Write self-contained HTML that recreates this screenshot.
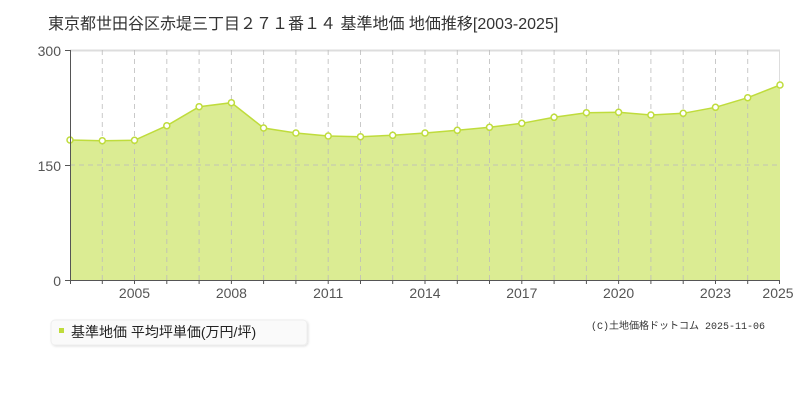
<!DOCTYPE html>
<html><head><meta charset="utf-8"><style>
body{margin:0;background:#fff;width:800px;height:400px;overflow:hidden;font-family:"Liberation Sans","Noto Sans CJK JP",sans-serif;}
</style></head><body>
<svg width="800" height="400" xmlns="http://www.w3.org/2000/svg" font-family="Liberation Sans, Noto Sans CJK JP, sans-serif">
<defs><filter id="sh" x="-5%" y="-20%" width="110%" height="160%"><feDropShadow dx="1" dy="1" stdDeviation="1" flood-color="#000" flood-opacity="0.12"/></filter></defs>
<text x="48" y="29" font-size="16" fill="#333">東京都世田谷区赤堤三丁目２７１番１４ 基準地価 地価推移[2003-2025]</text>
<line x1="70" y1="50.5" x2="780" y2="50.5" stroke="#ddd" stroke-width="2"/>
<line x1="779.5" y1="50" x2="779.5" y2="280" stroke="#ddd" stroke-width="1"/>
<polygon fill="#dbec93" points="70,280 70,140 102.3,140.7 134.5,140.3 166.8,125.7 199.1,106.7 231.4,102.7 263.6,128 295.9,133 328.2,136 360.5,136.7 392.7,135.3 425,133 457.3,130.3 489.5,127.3 521.8,123.3 554.1,117.3 586.4,112.7 618.6,112.3 650.9,115 683.2,113.3 715.5,107.3 747.7,97.7 780,85 780,280"/>
<g stroke="#bbb" stroke-opacity="0.8" stroke-dasharray="5,4" stroke-width="1">
<line x1="102.3" y1="50" x2="102.3" y2="280"/><line x1="134.5" y1="50" x2="134.5" y2="280"/><line x1="166.8" y1="50" x2="166.8" y2="280"/><line x1="199.1" y1="50" x2="199.1" y2="280"/><line x1="231.4" y1="50" x2="231.4" y2="280"/><line x1="263.6" y1="50" x2="263.6" y2="280"/><line x1="295.9" y1="50" x2="295.9" y2="280"/><line x1="328.2" y1="50" x2="328.2" y2="280"/><line x1="360.5" y1="50" x2="360.5" y2="280"/><line x1="392.7" y1="50" x2="392.7" y2="280"/><line x1="425" y1="50" x2="425" y2="280"/><line x1="457.3" y1="50" x2="457.3" y2="280"/><line x1="489.5" y1="50" x2="489.5" y2="280"/><line x1="521.8" y1="50" x2="521.8" y2="280"/><line x1="554.1" y1="50" x2="554.1" y2="280"/><line x1="586.4" y1="50" x2="586.4" y2="280"/><line x1="618.6" y1="50" x2="618.6" y2="280"/><line x1="650.9" y1="50" x2="650.9" y2="280"/><line x1="683.2" y1="50" x2="683.2" y2="280"/><line x1="715.5" y1="50" x2="715.5" y2="280"/><line x1="747.7" y1="50" x2="747.7" y2="280"/>
<line x1="70" y1="165" x2="780" y2="165"/>
</g>
<polyline fill="none" stroke="#bfdc3c" stroke-width="1.5" points="70,140 102.3,140.7 134.5,140.3 166.8,125.7 199.1,106.7 231.4,102.7 263.6,128 295.9,133 328.2,136 360.5,136.7 392.7,135.3 425,133 457.3,130.3 489.5,127.3 521.8,123.3 554.1,117.3 586.4,112.7 618.6,112.3 650.9,115 683.2,113.3 715.5,107.3 747.7,97.7 780,85"/>
<g fill="#fff" stroke="#bfdc3c" stroke-width="1.5">
<circle cx="70" cy="140" r="3"/><circle cx="102.3" cy="140.7" r="3"/><circle cx="134.5" cy="140.3" r="3"/><circle cx="166.8" cy="125.7" r="3"/><circle cx="199.1" cy="106.7" r="3"/><circle cx="231.4" cy="102.7" r="3"/><circle cx="263.6" cy="128" r="3"/><circle cx="295.9" cy="133" r="3"/><circle cx="328.2" cy="136" r="3"/><circle cx="360.5" cy="136.7" r="3"/><circle cx="392.7" cy="135.3" r="3"/><circle cx="425" cy="133" r="3"/><circle cx="457.3" cy="130.3" r="3"/><circle cx="489.5" cy="127.3" r="3"/><circle cx="521.8" cy="123.3" r="3"/><circle cx="554.1" cy="117.3" r="3"/><circle cx="586.4" cy="112.7" r="3"/><circle cx="618.6" cy="112.3" r="3"/><circle cx="650.9" cy="115" r="3"/><circle cx="683.2" cy="113.3" r="3"/><circle cx="715.5" cy="107.3" r="3"/><circle cx="747.7" cy="97.7" r="3"/><circle cx="780" cy="85" r="3"/>
</g>
<g stroke="#555" stroke-width="1">
<line x1="70.5" y1="50" x2="70.5" y2="284"/><line x1="70" y1="280.5" x2="780" y2="280.5"/>
<line x1="65" y1="50.5" x2="70" y2="50.5"/><line x1="65" y1="165.5" x2="70" y2="165.5"/><line x1="65" y1="280.5" x2="70" y2="280.5"/>
<line x1="102.3" y1="280" x2="102.3" y2="284"/><line x1="134.5" y1="280" x2="134.5" y2="284"/><line x1="166.8" y1="280" x2="166.8" y2="284"/><line x1="199.1" y1="280" x2="199.1" y2="284"/><line x1="231.4" y1="280" x2="231.4" y2="284"/><line x1="263.6" y1="280" x2="263.6" y2="284"/><line x1="295.9" y1="280" x2="295.9" y2="284"/><line x1="328.2" y1="280" x2="328.2" y2="284"/><line x1="360.5" y1="280" x2="360.5" y2="284"/><line x1="392.7" y1="280" x2="392.7" y2="284"/><line x1="425" y1="280" x2="425" y2="284"/><line x1="457.3" y1="280" x2="457.3" y2="284"/><line x1="489.5" y1="280" x2="489.5" y2="284"/><line x1="521.8" y1="280" x2="521.8" y2="284"/><line x1="554.1" y1="280" x2="554.1" y2="284"/><line x1="586.4" y1="280" x2="586.4" y2="284"/><line x1="618.6" y1="280" x2="618.6" y2="284"/><line x1="650.9" y1="280" x2="650.9" y2="284"/><line x1="683.2" y1="280" x2="683.2" y2="284"/><line x1="715.5" y1="280" x2="715.5" y2="284"/><line x1="747.7" y1="280" x2="747.7" y2="284"/><line x1="779.5" y1="280" x2="779.5" y2="284"/>
</g>
<g font-size="14" fill="#555" text-anchor="end">
<text x="61" y="56">300</text><text x="61" y="171">150</text><text x="61" y="286">0</text>
</g>
<g font-size="14" fill="#555" text-anchor="middle">
<text x="134.5" y="298">2005</text><text x="231.4" y="298">2008</text><text x="328.2" y="298">2011</text><text x="425" y="298">2014</text><text x="521.8" y="298">2017</text><text x="618.6" y="298">2020</text><text x="715.5" y="298">2023</text><text x="778" y="298">2025</text>
</g>
<rect x="51" y="320" width="256" height="25" rx="4" fill="#fafafa" stroke="#eee" filter="url(#sh)"/>
<rect x="59" y="328" width="5" height="5" fill="#bfdc3c"/>
<text x="71" y="337" font-size="14" fill="#222">基準地価 平均坪単価(万円/坪)</text>
<text x="765" y="329" font-size="10" fill="#333" text-anchor="end" font-family="Liberation Mono, Noto Sans CJK JP, monospace">(C)土地価格ドットコム 2025-11-06</text>
</svg>
</body></html>
